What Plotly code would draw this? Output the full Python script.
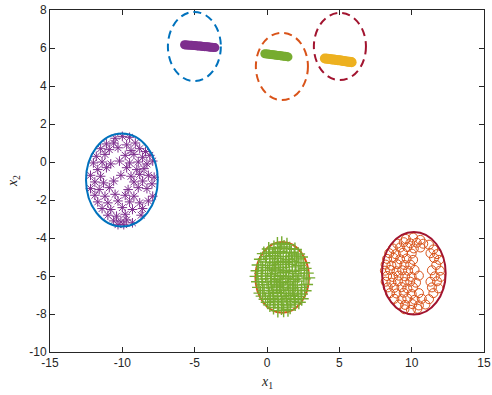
import plotly.graph_objects as go

# ---------------- data ----------------
purple_pts = [(-10.5,1.25),(-10.0,1.35),(-9.5,1.3),
 (-11.1,0.95),(-10.6,1.0),(-9.7,0.9),(-9.1,1.0),
 (-11.5,0.7),(-10.9,0.65),(-10.3,0.75),(-9.4,0.6),(-8.8,0.7),(-8.4,0.55),
 (-11.8,0.3),(-11.2,0.4),(-9.8,0.35),(-9.2,0.4),(-8.6,0.25),(-8.1,0.35),
 (-12.0,-0.05),(-11.4,0.0),(-10.8,-0.1),(-10.2,0.05),(-9.5,-0.05),(-8.9,0.0),(-8.3,-0.1),(-7.9,0.05),
 (-11.7,-0.4),(-11.1,-0.3),(-9.7,-0.3),(-9.0,-0.4),(-8.5,-0.35),
 (-12.2,-0.7),(-11.5,-0.75),(-10.1,-0.7),(-9.4,-0.75),(-8.8,-0.65),(-8.2,-0.7),(-7.8,-0.8),
 (-11.9,-1.05),(-11.3,-1.1),(-10.6,-1.0),(-9.2,-1.05),(-8.6,-1.0),(-7.95,-1.15),
 (-12.2,-1.4),(-11.6,-1.45),(-10.9,-1.35),(-9.6,-1.45),(-8.9,-1.35),(-8.3,-1.4),
 (-11.9,-1.75),(-11.2,-1.8),(-10.5,-1.7),(-9.8,-1.75),(-9.2,-1.8),(-7.9,-1.8),
 (-11.7,-2.1),(-11.0,-2.15),(-10.3,-2.05),(-9.5,-2.1),(-8.8,-2.15),(-8.2,-2.05),
 (-11.4,-2.45),(-10.8,-2.5),(-10.0,-2.4),(-9.3,-2.5),(-8.6,-2.45),
 (-11.0,-2.8),(-10.4,-2.85),(-9.8,-2.75),(-8.7,-2.8),
 (-10.6,-3.1),(-10.1,-3.15),(-9.7,-3.05),(-9.3,-3.2),(-10.3,-3.3),(-9.9,-3.3)]

green_pts = [(0.72,-4.32),(1.02,-4.28),(1.38,-4.35),
 (0.12,-4.58),(0.48,-4.5),(0.83,-4.55),(1.18,-4.47),(1.57,-4.56),(1.93,-4.6),
 (-0.22,-4.82),(0.18,-4.74),(0.57,-4.8),(0.92,-4.72),(1.33,-4.79),(1.68,-4.75),(2.15,-4.84),
 (-0.05,-4.98),(0.38,-4.93),(1.12,-4.97),(1.88,-4.95),(2.35,-5.0),
 (-0.42,-5.12),(0.2,-5.1),(0.72,-5.08),(1.48,-5.13),(2.05,-5.1),
 (-0.1,-5.26),(0.5,-5.3),(0.95,-5.22),(1.3,-5.28),(1.75,-5.24),(2.5,-5.3),
 (-0.58,-5.42),(0.18,-5.45),(0.78,-5.4),(1.55,-5.38),(2.2,-5.44),
 (-0.3,-5.56),(0.4,-5.58),(1.1,-5.55),(1.95,-5.52),(2.6,-5.6),
 (-0.65,-5.72),(0.05,-5.7),(0.6,-5.68),(0.9,-5.74),(1.35,-5.7),(1.75,-5.75),(2.35,-5.7),
 (-0.4,-5.86),(0.3,-5.88),(1.15,-5.83),(2.0,-5.87),(2.75,-5.85),
 (-0.72,-6.02),(-0.1,-6.0),(0.55,-6.03),(0.95,-5.98),(1.5,-6.02),(2.2,-6.0),
 (-0.35,-6.16),(0.25,-6.14),(0.75,-6.18),(1.3,-6.12),(1.85,-6.17),(2.55,-6.15),(2.85,-6.1),
 (-0.62,-6.3),(0.0,-6.32),(0.5,-6.28),(1.05,-6.33),(1.6,-6.3),(2.1,-6.27),
 (-0.3,-6.46),(0.3,-6.44),(0.85,-6.48),(1.4,-6.43),(1.95,-6.47),(2.7,-6.45),
 (-0.55,-6.6),(0.1,-6.62),(0.65,-6.58),(1.15,-6.6),(1.75,-6.63),(2.4,-6.6),
 (-0.2,-6.76),(0.4,-6.78),(0.95,-6.73),(1.5,-6.77),(2.1,-6.75),(2.6,-6.78),
 (-0.45,-6.9),(0.15,-6.92),(0.7,-6.88),(1.25,-6.93),(1.85,-6.9),(2.35,-6.95),
 (-0.3,-7.06),(0.45,-7.05),(1.0,-7.08),(1.6,-7.03),(2.15,-7.07),
 (-0.1,-7.22),(0.25,-7.2),(0.75,-7.25),(1.35,-7.18),(1.9,-7.22),(2.4,-7.2),
 (0.05,-7.38),(0.55,-7.35),(1.1,-7.37),(1.65,-7.33),(2.2,-7.38),
 (0.2,-7.52),(0.8,-7.5),(1.4,-7.53),(1.95,-7.48),
 (0.45,-7.66),(1.0,-7.68),(1.6,-7.64),
 (0.75,-7.82),(1.15,-7.8),(1.45,-7.78)]

orange_pts = [(9.6,-4.05),(10.1,-3.98),(10.6,-4.1),
 (9.0,-4.3),(9.45,-4.22),(9.9,-4.28),(10.35,-4.25),(10.8,-4.3),(11.2,-4.35),
 (8.7,-4.55),(9.2,-4.5),(9.7,-4.48),(10.15,-4.55),(10.6,-4.5),(11.5,-4.6),
 (8.45,-4.8),(8.9,-4.85),(9.4,-4.78),(10.0,-4.82),(11.3,-4.8),(11.75,-4.85),
 (8.3,-5.1),(8.75,-5.05),(9.2,-5.12),(9.65,-5.08),(10.1,-5.15),(11.55,-5.05),(11.9,-5.15),
 (8.2,-5.4),(8.6,-5.45),(9.0,-5.38),(9.5,-5.42),(9.9,-5.4),(11.7,-5.42),
 (8.15,-5.72),(8.5,-5.68),(8.95,-5.75),(9.35,-5.7),(9.75,-5.72),(10.2,-5.68),(11.4,-5.7),(11.95,-5.72),
 (8.3,-6.0),(8.7,-6.05),(9.1,-5.98),(9.55,-6.02),(10.0,-6.05),(10.5,-5.98),(11.6,-6.02),(12.0,-6.05),
 (8.2,-6.3),(8.6,-6.35),(9.05,-6.28),(9.5,-6.32),(9.9,-6.3),(10.3,-6.35),(11.3,-6.3),(11.75,-6.28),
 (8.35,-6.6),(8.8,-6.62),(9.3,-6.58),(9.7,-6.65),(10.1,-6.6),(11.4,-6.6),(11.85,-6.65),
 (8.5,-6.9),(8.95,-6.92),(9.45,-6.88),(10.0,-6.95),(10.5,-6.9),(11.5,-6.9),
 (8.8,-7.2),(9.3,-7.22),(9.7,-7.18),(10.2,-7.25),(10.7,-7.2),(11.2,-7.22),
 (9.1,-7.5),(9.55,-7.52),(10.05,-7.48),(10.5,-7.55),(10.95,-7.5),
 (9.5,-7.75),(9.95,-7.78),(10.4,-7.72)]

purple_small = [(-5.7,6.17),(-5.6,6.16),(-5.5,6.16),(-5.4,6.15),(-5.3,6.15),(-5.2,6.14),
 (-5.1,6.13),(-5.0,6.13),(-4.9,6.12),(-4.8,6.11),(-4.7,6.1),(-4.6,6.1),(-4.5,6.09),
 (-4.4,6.08),(-4.3,6.07),(-4.2,6.07),(-4.1,6.06),(-4.0,6.05),(-3.9,6.04),(-3.8,6.04),
 (-3.7,6.03),(-3.6,6.02)]
green_small = [(-0.15,5.7),(-0.05,5.69),(0.05,5.68),(0.15,5.67),(0.25,5.66),(0.35,5.65),
 (0.45,5.64),(0.55,5.63),(0.65,5.62),(0.75,5.61),(0.85,5.6),(0.95,5.59),(1.05,5.58),
 (1.15,5.57),(1.25,5.56),(1.35,5.55),(1.45,5.53)]
yellow_small = [(4.0,5.45),(4.1,5.44),(4.2,5.43),(4.3,5.42),(4.4,5.41),(4.5,5.4),(4.6,5.39),
 (4.7,5.38),(4.8,5.37),(4.9,5.36),(5.0,5.35),(5.1,5.34),(5.2,5.33),(5.3,5.31),(5.4,5.3),
 (5.5,5.29),(5.6,5.28),(5.7,5.27),(5.8,5.26),(5.85,5.25)]

# ellipses: (cx, cy, rx, ry, color, dash)
ellipses = [(-10.03, -0.95, 2.48, 2.45, "#0072BD", "solid"),
            (1.05, -6.07, 1.85, 1.86, "#D95319", "solid"),
            (10.15, -5.85, 2.2, 2.17, "#A2142F", "solid"),
            (-5.02, 6.08, 1.83, 1.82, "#0072BD", "8px,5px"),
            (1.03, 5.03, 1.8, 1.77, "#D95319", "8px,5px"),
            (5.04, 6.08, 1.8, 1.77, "#A2142F", "8px,5px")]

x_ticks = [-15, -10, -5, 0, 5, 10, 15]
y_ticks = [-10, -8, -6, -4, -2, 0, 2, 4, 6, 8]

# ---------------- figure ----------------
fig = go.Figure()

def add(pts, color, symbol, size, lw=1.0):
    fig.add_trace(go.Scatter(
        x=[p[0] for p in pts], y=[p[1] for p in pts], mode="markers",
        marker=dict(symbol=symbol, size=size, color=color,
                    line=dict(color=color, width=lw)),
        showlegend=False, hoverinfo="skip"))

add(purple_pts, "#7E2F8E", "asterisk-open", 8)
add(green_pts, "#77AC30", "cross-thin-open", 10, 1.4)
add(orange_pts, "#D95319", "circle-open", 9)
add(purple_small, "#7E2F8E", "circle", 9, 0)
add(green_small, "#77AC30", "circle", 9, 0)
add(yellow_small, "#EDB120", "circle", 10, 0)

for cx, cy, rx, ry, col, dash in ellipses:
    fig.add_shape(type="circle", xref="x", yref="y",
                  x0=cx - rx, x1=cx + rx, y0=cy - ry, y1=cy + ry,
                  line=dict(color=col, width=2, dash=dash),
                  layer="below" if dash == "solid" and col == "#D95319" else "above")

axis_common = dict(showline=True, linecolor="#262626", linewidth=1, mirror="ticks",
                   ticks="inside", ticklen=5, tickcolor="#262626", showgrid=False,
                   zeroline=False, ticklabeloverflow="allow",
                   tickfont=dict(family="Liberation Sans", size=12, color="#262626"))

fig.update_xaxes(range=[-15, 15], tickvals=x_ticks, ticktext=[str(v) for v in x_ticks], **axis_common)
fig.update_yaxes(range=[-10, 8], tickvals=y_ticks, ticktext=[str(v) for v in y_ticks], **axis_common)

fig.update_layout(
    width=492, height=395,
    margin=dict(l=50, r=8, t=10, b=43, autoexpand=False),
    plot_bgcolor="white", paper_bgcolor="white",
    annotations=[
        dict(text="<i>x</i><sub>1</sub>", xref="paper", yref="paper", x=0.5, y=-0.09,
             xanchor="center", yanchor="middle", showarrow=False,
             font=dict(family="Liberation Serif", size=14, color="#262626")),
        dict(text="<i>x</i><sub>2</sub>", xref="paper", yref="paper", x=-0.085, y=0.5,
             xanchor="center", yanchor="middle", showarrow=False, textangle=-90,
             font=dict(family="Liberation Serif", size=14, color="#262626")),
    ])

# remove the page's default 8px body margin so the figure sits at the window origin
fig.write_html("out.html", config={"displayModeBar": False},
               post_script="document.body.style.margin='0px';")
